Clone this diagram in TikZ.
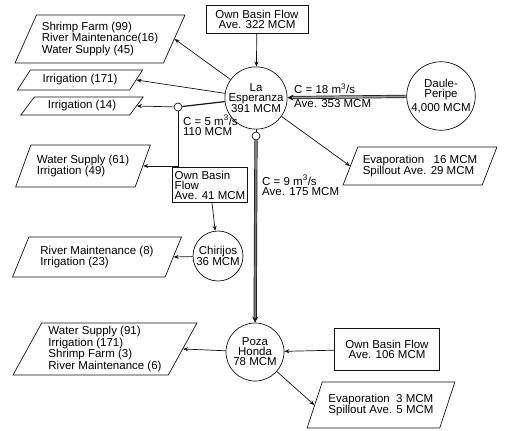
\documentclass[tikz,border=0pt]{standalone}
\usepackage{fontspec}
\setmainfont{Liberation Sans}
\usetikzlibrary{arrows.meta,shapes.geometric}
\definecolor{flowink}{HTML}{111111}
\definecolor{canalgray}{HTML}{9A9A9A}
\newcommand{\rfont}{\fontsize{11.5}{10}\selectfont}
\tikzset{
  resv/.style     = {circle, draw=flowink, line width=0.7pt, inner sep=0pt,
                     align=center, font=\rfont},
  junc/.style     = {circle, draw=flowink, line width=0.7pt, minimum size=8pt, inner sep=0pt},
  basinbox/.style = {rectangle, draw=flowink, line width=0.7pt, inner sep=2pt,
                     align=center, font=\rfont},
  usebox/.style   = {trapezium, trapezium left angle=62, trapezium right angle=118,
                     trapezium stretches=true, draw=flowink, line width=0.7pt,
                     inner sep=2pt, align=left, font=\rfont},
  flow/.style     = {-{Stealth[length=5pt,width=4pt]}, line width=0.7pt, flowink},
  canal/.style    = {line width=0.7pt, flowink, double=canalgray, double distance=1.8pt},
  lbl/.style      = {inner sep=0pt, align=left, font=\rfont},
}

\begin{document}
\begin{tikzpicture}[x=1pt, y=-1pt]
\path[use as bounding box] (0,0) rectangle (506,431);

% reservoirs
\node[resv, minimum size=57pt] (esp)   at (256,98)  {La\\Esperanza\\391 MCM};
\node[resv, minimum size=64pt] (daule) at (441,96)  {Daule-\\Peripe\\[3pt]4,000 MCM};
\node[resv, minimum size=50pt] (chir)  at (218,256) {Chirijos\\36 MCM};
\node[resv, minimum size=58pt] (poza)  at (255,352) {Poza\\Honda\\78 MCM};
\node[junc] (jn1) at (178,107) {};
\node[junc] (jn2) at (256,136) {};

% inflows
\node[basinbox, minimum width=102pt, minimum height=28pt] (topbasin) at (257,19) {Own Basin Flow\\Ave. 322 MCM};
\node[basinbox, minimum width=75pt, minimum height=35pt, align=left] (basin41) at (210,185) {Own Basin\\Flow\\Ave. 41 MCM};
\node[basinbox, minimum width=105pt, minimum height=42pt] (basin106) at (387,349) {Own Basin Flow\\Ave. 106 MCM};

% demands
\node[usebox, minimum width=170pt, minimum height=48pt] (shrimp) at (100,39) {Shrimp Farm (99)\\River Maintenance(16)\\Water Supply (45)};
\node[usebox, trapezium left angle=55, trapezium right angle=125, minimum width=126pt, minimum height=20pt] (irr171) at (80,80) {Irrigation (171)};
\node[usebox, trapezium left angle=55, trapezium right angle=125, minimum width=123pt, minimum height=18pt] (irr14) at (82,106) {Irrigation (14)};
\node[usebox, minimum width=135pt, minimum height=42pt] (ws61) at (83,166) {Water Supply (61)\\Irrigation (49)};
\node[usebox, minimum width=169pt, minimum height=40pt] (rm8) at (97,257) {River Maintenance (8)\\Irrigation (23)};
\node[usebox, minimum width=184pt, minimum height=52pt] (ws91) at (105,349) {Water Supply (91)\\Irrigation (171)\\Shrimp Farm (3)\\River Maintenance (6)};
\node[usebox, minimum width=154pt, minimum height=38pt] (evap16) at (420,166) {Evaporation~~~16 MCM\\Spillout Ave. 29 MCM};
\node[usebox, minimum width=148pt, minimum height=46pt] (evap3) at (381,405) {Evaporation~~3 MCM\\Spillout Ave. 5 MCM};

% canal labels
\node[lbl, anchor=west] (c18) at (294,96) {C = 18 m\textsuperscript{3}/s\\[4pt]Ave. 353 MCM};
\node[lbl, anchor=north west] (c5) at (183,115) {C = 5 m\textsuperscript{3}/s\\110 MCM};
\node[lbl, anchor=north west] (c9) at (262,175) {C = 9 m\textsuperscript{3}/s\\Ave. 175 MCM};

% connections
\draw[flow] (topbasin) -- (esp);
\draw[canal, -{Stealth[length=6pt,width=6pt]}] (daule) -- (esp);
\draw[flow] (esp) -- (shrimp.east);
\draw[flow] (esp) -- (irr171.east);
\draw[line width=1.2pt, flowink] (esp) -- (jn1);
\draw[flow] (jn1) -- (irr14.east);
\draw[flow] (jn1) |- (ws61.east);
\draw[flow] (basin41) -- (chir);
\draw[flow] (chir) -- (rm8.east);
\draw[flow] (esp) -- (evap16.west);
\draw[line width=0.7pt, flowink] (esp) -- (jn2);
\draw[canal, double=flowink!55, -{Stealth[length=6pt,width=6pt]}] (jn2) -- (poza);
\draw[flow] (poza) -- (ws91.east);
\draw[flow] (basin106) -- (poza);
\draw[flow] (poza) -- (evap3.west);
\end{tikzpicture}
\end{document}
